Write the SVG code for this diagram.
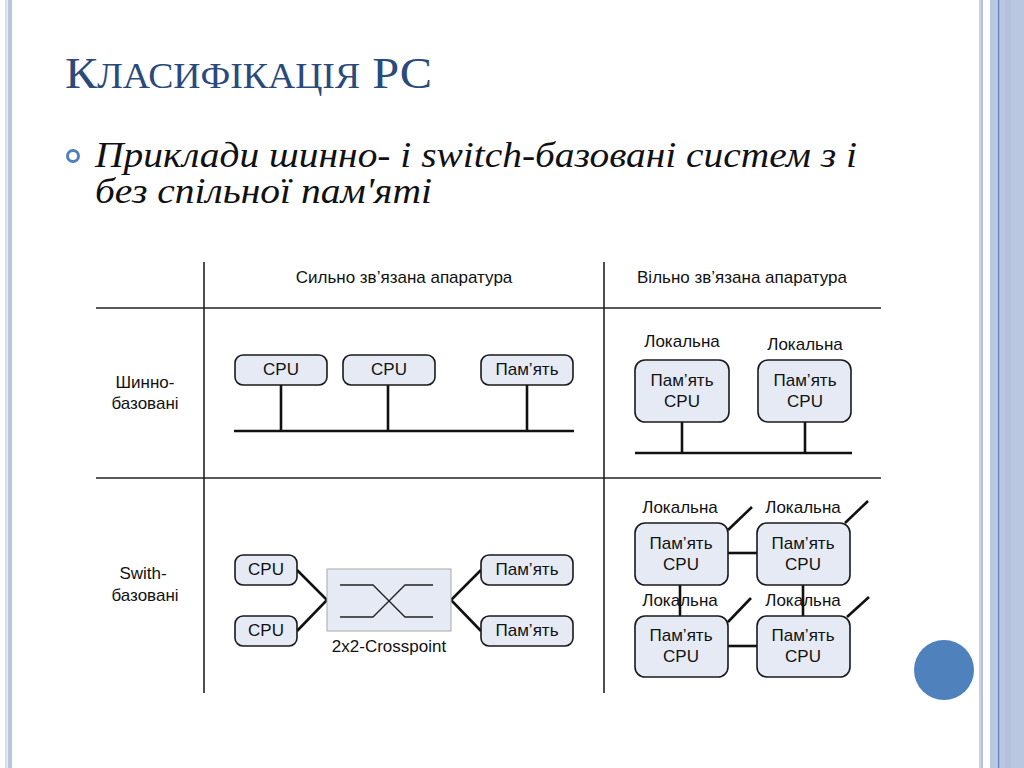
<svg xmlns="http://www.w3.org/2000/svg" width="1024" height="768" viewBox="0 0 1024 768">
<defs>
<style>
.t{font-family:"Liberation Sans",Arial,sans-serif;font-size:17px;fill:#111;text-anchor:middle}
.box{fill:#e6eaf5;stroke:#1a1a1a;stroke-width:1.6}
.grid{stroke:#222;stroke-width:1.6;fill:none}
.w{stroke:#111;stroke-width:2.6;fill:none}
.thin{stroke:#222;stroke-width:1.3;fill:none}
</style>
</defs>
<rect width="1024" height="768" fill="#fff"/>
<!-- borders -->
<rect x="5" y="0" width="2.5" height="768" fill="#d6deee"/>
<rect x="8" y="0" width="4" height="768" fill="#bac6df"/>
<rect x="979" y="0" width="2" height="768" fill="#c7d1e7"/>
<rect x="981" y="0" width="2" height="768" fill="#b6c3de"/>
<rect x="990" y="0" width="34" height="768" fill="#bac7e0"/>
<rect x="1005" y="0" width="6" height="768" fill="#b3c1dc"/>
<rect x="998" y="0" width="1.2" height="768" fill="#5b7fba"/>
<circle cx="944" cy="670" r="30" fill="#4f81bd"/>
<!-- title -->
<text x="65" y="88" font-family="'Liberation Serif',serif" fill="#2a4a7c" textLength="367" lengthAdjust="spacingAndGlyphs"><tspan font-size="45">К</tspan><tspan font-size="35">ЛАСИФІКАЦІЯ</tspan><tspan font-size="45"> РС</tspan></text>
<!-- bullet -->
<circle cx="73" cy="156" r="5.5" fill="none" stroke="#4f81bd" stroke-width="3"/>
<text x="95" y="167" font-family="'Liberation Serif',serif" font-style="italic" font-size="35" fill="#111" textLength="762" lengthAdjust="spacingAndGlyphs">Приклади шинно- і switch-базовані систем з і</text>
<text x="95" y="203" font-family="'Liberation Serif',serif" font-style="italic" font-size="35" fill="#111" textLength="337" lengthAdjust="spacingAndGlyphs">без спільної пам'яті</text>
<!-- table grid -->
<g id="grid">
<line class="grid" x1="204" y1="262" x2="204" y2="693"/>
<line class="grid" x1="604" y1="262" x2="604" y2="693"/>
<line class="grid" x1="96" y1="308" x2="881" y2="308"/>
<line class="grid" x1="96" y1="478" x2="881" y2="478"/>
</g>
<g id="headers">
<text class="t" x="404" y="283">Сильно зв’язана апаратура</text>
<text class="t" x="742" y="283">Вільно зв’язана апаратура</text>
<text class="t" x="145" y="388">Шинно-</text>
<text class="t" x="145" y="409">базовані</text>
<text class="t" x="143" y="579">Swith-</text>
<text class="t" x="145" y="601">базовані</text>
</g>
<!-- labels Локальна -->
<g id="labels">
<text class="t" x="682" y="347">Локальна</text>
<text class="t" x="805" y="350">Локальна</text>
<text class="t" x="680" y="513">Локальна</text>
<text class="t" x="803" y="513">Локальна</text>
<text class="t" x="680" y="606">Локальна</text>
<text class="t" x="803" y="606">Локальна</text>
<text class="t" x="389" y="652">2x2-Crosspoint</text>
</g>
<!-- connectors -->
<g id="connectors">
<line class="w" x1="281" y1="385" x2="281" y2="431"/>
<line class="w" x1="388" y1="385" x2="388" y2="431"/>
<line class="w" x1="527" y1="385" x2="527" y2="431"/>
<line class="w" x1="234" y1="431" x2="574" y2="431"/>
<line class="w" x1="682" y1="422" x2="682" y2="453"/>
<line class="w" x1="805" y1="422" x2="805" y2="453"/>
<line class="w" x1="635" y1="453" x2="852" y2="453"/>
<polyline class="w" points="297,570 327,600 297,631"/>
<polyline class="w" points="481,570 451,600 481,631"/>
<line class="w" x1="728" y1="553" x2="757" y2="553"/>
<line class="w" x1="728" y1="646" x2="757" y2="646"/>
<line class="w" x1="680" y1="585" x2="680" y2="616"/>
<line class="w" x1="803" y1="585" x2="803" y2="616"/>
<line class="w" x1="728" y1="530" x2="752" y2="507"/>
<line class="w" x1="845" y1="523" x2="868" y2="501"/>
<line class="w" x1="728" y1="622" x2="751" y2="598"/>
<line class="w" x1="847" y1="617" x2="869" y2="597"/>
</g>
<!-- bus row nodes -->
<g id="bus-cpu1"><rect class="box" x="235" y="355" width="92" height="30" rx="8"/><text class="t" x="281" y="375">CPU</text></g>
<g id="bus-cpu2"><rect class="box" x="343" y="355" width="92" height="30" rx="8"/><text class="t" x="389" y="375">CPU</text></g>
<g id="bus-mem"><rect class="box" x="481" y="355" width="92" height="30" rx="8"/><text class="t" x="527" y="375">Пам’ять</text></g>
<g id="lb-node1"><rect class="box" x="635" y="360" width="94" height="62" rx="10"/><text class="t" x="682" y="386">Пам’ять</text><text class="t" x="682" y="407">CPU</text></g>
<g id="lb-node2"><rect class="box" x="758" y="360" width="93" height="62" rx="10"/><text class="t" x="805" y="386">Пам’ять</text><text class="t" x="805" y="407">CPU</text></g>
<!-- switch row nodes -->
<g id="sw-cpu1"><rect class="box" x="235" y="555" width="62" height="30" rx="8"/><text class="t" x="266" y="575">CPU</text></g>
<g id="sw-cpu2"><rect class="box" x="235" y="616" width="62" height="30" rx="8"/><text class="t" x="266" y="636">CPU</text></g>
<g id="sw-mem1"><rect class="box" x="481" y="555" width="92" height="30" rx="8"/><text class="t" x="527" y="575">Пам’ять</text></g>
<g id="sw-mem2"><rect class="box" x="481" y="616" width="92" height="30" rx="8"/><text class="t" x="527" y="636">Пам’ять</text></g>
<g id="crosspoint">
<rect x="327" y="569" width="124" height="62" fill="#e6eaf5" stroke="#a8a8a8" stroke-width="1"/>
<polyline class="thin" points="340,585 373,585 405,617 433,617"/>
<polyline class="thin" points="340,617 373,617 405,585 433,585"/>
</g>
<g id="ls-node1"><rect class="box" x="635" y="523" width="93" height="62" rx="10"/><text class="t" x="681" y="549">Пам’ять</text><text class="t" x="681" y="570">CPU</text></g>
<g id="ls-node2"><rect class="box" x="757" y="523" width="93" height="62" rx="10"/><text class="t" x="803" y="549">Пам’ять</text><text class="t" x="803" y="570">CPU</text></g>
<g id="ls-node3"><rect class="box" x="635" y="616" width="93" height="61" rx="10"/><text class="t" x="681" y="641">Пам’ять</text><text class="t" x="681" y="662">CPU</text></g>
<g id="ls-node4"><rect class="box" x="757" y="616" width="93" height="61" rx="10"/><text class="t" x="803" y="641">Пам’ять</text><text class="t" x="803" y="662">CPU</text></g>
</svg>
